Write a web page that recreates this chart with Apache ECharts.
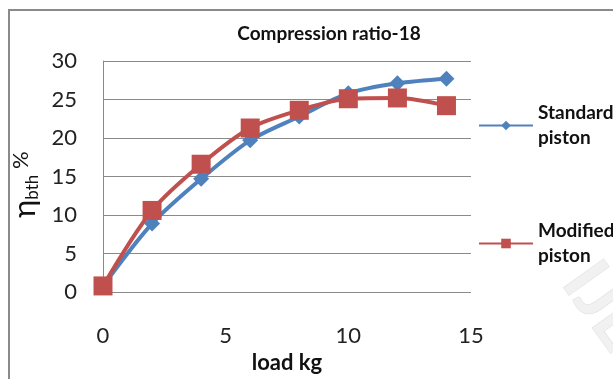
<!DOCTYPE html>
<html>
<head>
<meta charset="utf-8">
<script src="https://cdn.jsdelivr.net/npm/echarts@6/dist/echarts.min.js"></script>
<style>
html,body{margin:0;padding:0;background:#fff;}
#c{width:613px;height:379px;}
</style>
</head>
<body>
<div id="c"></div>
<script>
// Data
const loads = [0, 2, 4, 6, 8, 10, 12, 14];
const standardPiston = [0.8, 8.9, 14.7, 19.7, 22.8, 25.8, 27.1, 27.7];
const modifiedPiston = [0.8, 10.6, 16.6, 21.3, 23.6, 25.1, 25.2, 24.2];
const seriesNames = ['Standard piston', 'Modified piston'];
const chartTitle = 'Compression ratio-18';
const xAxisTitle = 'load kg';

const FONT = 'Lato, "Open Sans", sans-serif';
const chart = echarts.init(document.getElementById('c'), null, {renderer: 'canvas'});

function pairs(xs, ys) { return xs.map((x, i) => [x, ys[i]]); }

const legendCommon = {
  orient: 'vertical',
  left: 473,
  itemWidth: 54,
  itemHeight: 12,
  lineStyle: {width: 2},
  formatter: n => n.replace(' ', '\n'),
  textStyle: {fontFamily: FONT, fontSize: 19, fontWeight: 'bold', color: '#111', lineHeight: 25, padding: [25, 0, 0, 0]}
};

chart.setOption({
  animation: false,
  backgroundColor: '#fff',
  title: {
    text: chartTitle,
    left: 324,
    textAlign: 'center',
    top: 19,
    textStyle: {fontFamily: FONT, fontSize: 19, fontWeight: 'bold', color: '#111'}
  },
  graphic: [
    {type: 'rect', z: -1, shape: {x: 9, y: 10, width: 700, height: 500},
     style: {fill: 'none', stroke: '#8a8a8a', lineWidth: 2}},
    {type: 'text', z: -1, left: 550, top: 250, rotation: -0.95,
     style: {text: 'IJERT', font: 'bold 68px ' + FONT, fill: '#f1f1f1', stroke: '#dcdcdc', lineWidth: 1}}
  ],
  legend: [
    Object.assign({}, legendCommon, {data: [seriesNames[0]], top: 83}),
    Object.assign({}, legendCommon, {data: [seriesNames[1]], top: 201})
  ],
  grid: {left: 103, right: 142, top: 61, bottom: 73, containLabel: false},
  xAxis: {
    type: 'value', min: 0, max: 15, interval: 5,
    name: xAxisTitle, nameLocation: 'middle', nameGap: 48,
    nameTextStyle: {fontFamily: FONT, fontSize: 22, fontWeight: 'bold', color: '#111'},
    axisLine: {show: false}, axisTick: {show: false}, splitLine: {show: false},
    axisLabel: {fontFamily: FONT, fontSize: 22, color: '#222', margin: 33}
  },
  yAxis: {
    type: 'value', min: 0, max: 30, interval: 5,
    name: '{eta|η}{sub|bth}{pct| %}', nameLocation: 'middle', nameGap: 52,
    nameTextStyle: {
      padding: [0, 16, 0, 0],
      rich: {
        eta: {fontFamily: FONT, fontSize: 31, color: '#111', verticalAlign: 'middle'},
        sub: {fontFamily: FONT, fontSize: 17, color: '#111', verticalAlign: 'bottom', padding: [12, 0, 0, 0]},
        pct: {fontFamily: FONT, fontSize: 22, color: '#111', verticalAlign: 'top', padding: [0, 0, 8, 0]}
      }
    },
    axisLine: {show: true, lineStyle: {color: '#8a8a8a', width: 1}},
    axisTick: {show: false},
    splitLine: {show: true, lineStyle: {color: '#8a8a8a', width: 1}},
    axisLabel: {fontFamily: FONT, fontSize: 22, color: '#222', margin: 26}
  },
  series: [
    {
      name: seriesNames[0], type: 'line', smooth: 0.3,
      data: pairs(loads, standardPiston),
      symbol: 'diamond', symbolSize: 16,
      itemStyle: {color: '#4F81BD'},
      lineStyle: {color: '#4F81BD', width: 4}
    },
    {
      name: seriesNames[1], type: 'line', smooth: 0.3,
      data: pairs(loads, modifiedPiston),
      symbol: 'rect', symbolSize: 19,
      itemStyle: {color: '#C0504D'},
      lineStyle: {color: '#C0504D', width: 4}
    }
  ]
});
</script>
</body>
</html>
